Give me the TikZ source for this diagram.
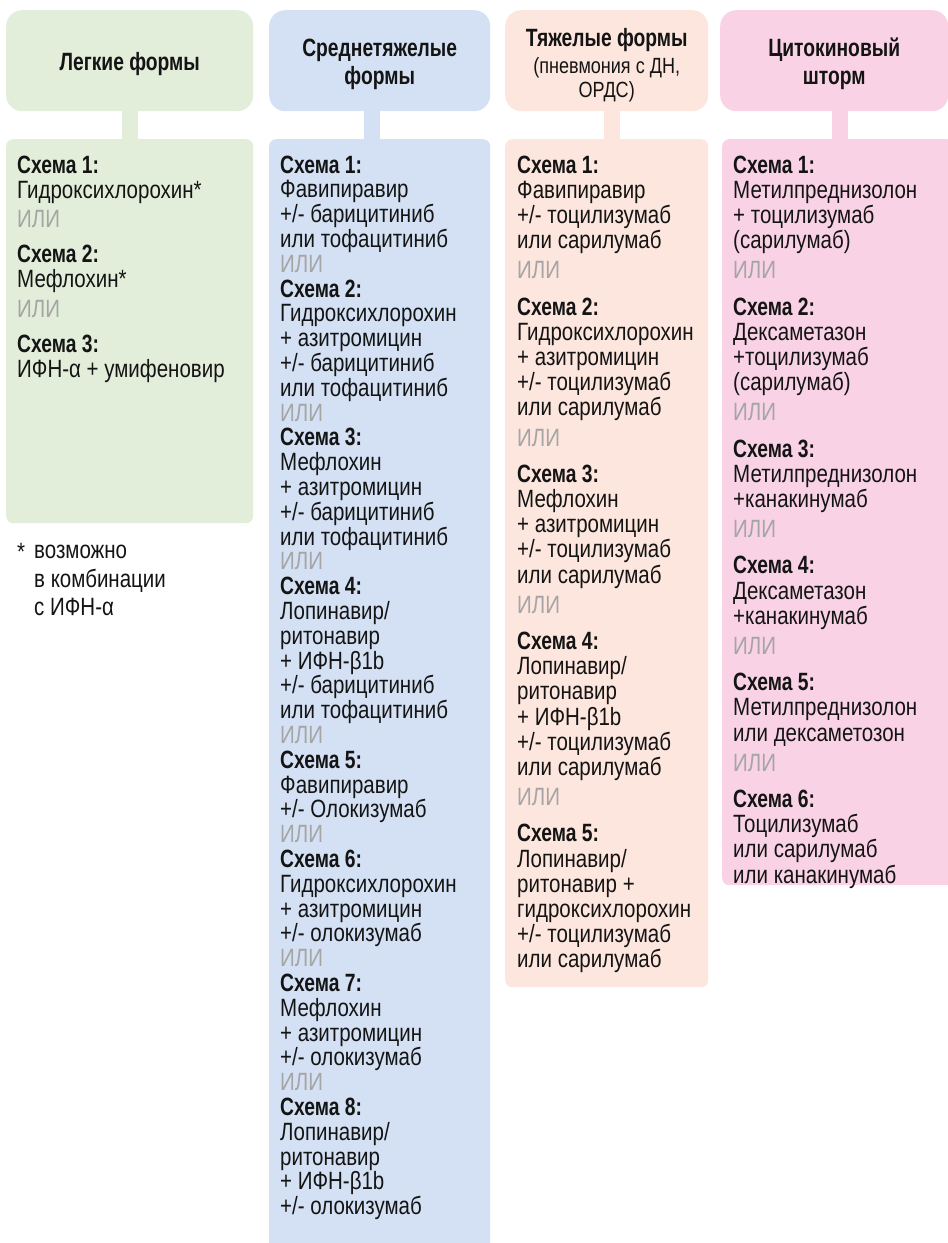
\documentclass[tikz,border=0pt]{standalone}
\usepackage{fontspec}
\setmainfont{Liberation Sans}[FakeStretch=0.82,BoldFeatures={FakeStretch=0.77}]
\definecolor{lightbg}{HTML}{E2EEDA}
\definecolor{medbg}{HTML}{D4E1F4}
\definecolor{sevbg}{HTML}{FDE6DE}
\definecolor{stormbg}{HTML}{F9D3E5}
\definecolor{iligray}{HTML}{A5A5A5}
\definecolor{txtblack}{HTML}{141414}
\newcommand{\schema}[1]{\textbf{Схема #1:}}
\newcommand{\ili}{\textcolor{iligray}{ИЛИ}}
\newcommand{\hstrut}{\rule{0pt}{24pt}}
\newcommand{\subfont}{\mdseries\fontsize{22}{23}\selectfont}
\begin{document}
\begin{tikzpicture}[x=1pt,y=-1pt,
    head/.style={rounded corners=16pt,minimum height=101pt,anchor=north west,
      inner sep=0pt,align=center,text=txtblack,font=\bfseries\fontsize{25}{28}\selectfont},
    body/.style={rounded corners=7pt,anchor=north west,inner sep=0pt},
    txt/.style={anchor=north west,inner sep=0pt,align=left,text=txtblack,
      font=\fontsize{25}{25.2}\selectfont},
    stem/.style={line width=16pt}]
  \useasboundingbox (0,0) rectangle (948,1243);
  % headers
  \node[head,fill=lightbg,minimum width=247pt] (hLight) at (6,10) {\hstrut Легкие формы};
  \node[head,fill=medbg,minimum width=221pt] (hMed) at (269,10) {\hstrut Среднетяжелые\\формы};
  \node[head,fill=sevbg,minimum width=203pt] (hSev) at (505,10)
    {\rule{0pt}{28pt}Тяжелые формы\\[-1pt]\subfont(пневмония с ДН,\\[-4pt]\subfont ОРДС)};
  \node[head,fill=stormbg,minimum width=228pt] (hStorm) at (720,10) {\hstrut Цитокиновый\\шторм};
  % bodies
  \node[body,fill=lightbg,minimum width=247pt,minimum height=384pt] (bLight) at (6,139) {};
  \node[body,fill=medbg,minimum width=221pt,minimum height=1120pt] (bMed) at (269,139) {};
  \node[body,fill=sevbg,minimum width=203pt,minimum height=848pt] (bSev) at (505,139) {};
  \node[body,fill=stormbg,minimum width=232pt,minimum height=746pt] (bStorm) at (722,139) {};
  % stems between header and body
  \draw[stem,lightbg] (hLight.south) -- (hLight.south |- bLight.north);
  \draw[stem,medbg] ([xshift=-8pt]hMed.south) -- ([xshift=-8pt]hMed.south |- bMed.north);
  \draw[stem,sevbg] ([xshift=5.5pt]hSev.south) -- ([xshift=5.5pt]hSev.south |- bSev.north);
  \draw[stem,stormbg] ([xshift=6pt]hStorm.south) -- ([xshift=6pt]hStorm.south |- bStorm.north);
  % texts
  \node[txt] (tLight) at (17,155.5) {\schema{1}\\Гидроксихлорохин*\\[4pt]\ili\\[10pt]
    \schema{2}\\Мефлохин*\\[4pt]\ili\\[10pt]
    \schema{3}\\ИФН-α + умифеновир};
  \node[txt,font=\fontsize{25}{24.8}\selectfont] (tMed) at (280,155.5) {\schema{1}\\Фавипиравир\\+/- барицитиниб\\или тофацитиниб\\\ili\\
    \schema{2}\\Гидроксихлорохин\\+ азитромицин\\+/- барицитиниб\\или тофацитиниб\\\ili\\
    \schema{3}\\Мефлохин\\+ азитромицин\\+/- барицитиниб\\или тофацитиниб\\\ili\\
    \schema{4}\\Лопинавир/\\ритонавир\\+ ИФН-β1b\\+/- барицитиниб\\или тофацитиниб\\\ili\\
    \schema{5}\\Фавипиравир\\+/- Олокизумаб\\\ili\\
    \schema{6}\\Гидроксихлорохин\\+ азитромицин\\+/- олокизумаб\\\ili\\
    \schema{7}\\Мефлохин\\+ азитромицин\\+/- олокизумаб\\\ili\\
    \schema{8}\\Лопинавир/\\ритонавир\\+ ИФН-β1b\\+/- олокизумаб};
  \node[txt] (tSev) at (517,155.5) {\schema{1}\\Фавипиравир\\+/- тоцилизумаб\\или сарилумаб\\[5pt]\ili\\[11pt]
    \schema{2}\\Гидроксихлорохин\\+ азитромицин\\+/- тоцилизумаб\\или сарилумаб\\[5pt]\ili\\[11pt]
    \schema{3}\\Мефлохин\\+ азитромицин\\+/- тоцилизумаб\\или сарилумаб\\[5pt]\ili\\[11pt]
    \schema{4}\\Лопинавир/\\ритонавир\\+ ИФН-β1b\\+/- тоцилизумаб\\или сарилумаб\\[5pt]\ili\\[11pt]
    \schema{5}\\Лопинавир/\\ритонавир +\\гидроксихлорохин\\+/- тоцилизумаб\\или сарилумаб};
  \node[txt] (tStorm) at (733,155.5) {\schema{1}\\Метилпреднизолон\\+ тоцилизумаб\\(сарилумаб)\\[5pt]\ili\\[11pt]
    \schema{2}\\Дексаметазон\\+тоцилизумаб\\(сарилумаб)\\[5pt]\ili\\[11pt]
    \schema{3}\\Метилпреднизолон\\+канакинумаб\\[5pt]\ili\\[11pt]
    \schema{4}\\Дексаметазон\\+канакинумаб\\[5pt]\ili\\[11pt]
    \schema{5}\\Метилпреднизолон\\или дексаметозон\\[5pt]\ili\\[11pt]
    \schema{6}\\Тоцилизумаб\\или сарилумаб\\или канакинумаб};
  % footnote
  \node[txt] (fnStar) at (17,543) {*};
  \node[txt,font=\fontsize{25}{28.5}\selectfont] (fnText) at (34,545) {возможно\\в комбинации\\с ИФН-α};
\end{tikzpicture}
\end{document}
